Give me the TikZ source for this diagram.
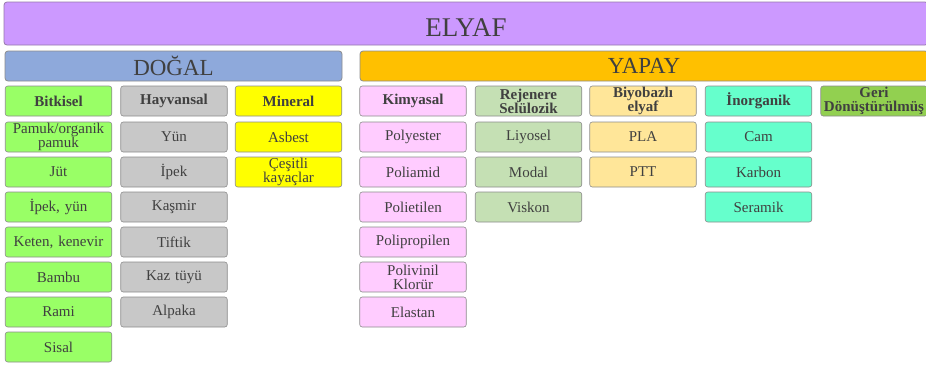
\documentclass[tikz,border=0pt]{standalone}
\usepackage{fontspec}
\setmainfont{Liberation Serif}
\usepackage{tikz}
\usetikzlibrary{positioning}
\usepackage{xcolor}
\definecolor{fbText}{RGB}{64, 64, 64}
\definecolor{fbEdge}{RGB}{140, 140, 140}
\definecolor{fbPurple}{RGB}{204, 153, 255}
\definecolor{fbPurpleEdge}{RGB}{150, 120, 170}
\definecolor{fbBlue}{RGB}{142, 169, 219}
\definecolor{fbOrange}{RGB}{255, 192, 0}
\definecolor{fbGreen}{RGB}{153, 255, 102}
\definecolor{fbSilver}{RGB}{200, 200, 200}
\definecolor{fbYellow}{RGB}{255, 255, 0}
\definecolor{fbPink}{RGB}{255, 204, 255}
\definecolor{fbSage}{RGB}{197, 224, 180}
\definecolor{fbSand}{RGB}{255, 230, 153}
\definecolor{fbMint}{RGB}{102, 255, 204}
\definecolor{fbLeaf}{RGB}{146, 208, 80}

\begin{document}
\begin{tikzpicture}[
    x=1pt, y=-1pt,
    node distance=5pt,
    topbox/.style={
        rectangle,
        rounded corners=3pt,
        minimum height=30pt,
        inner sep=0pt,
        outer sep=0pt,
        align=center,
        font=\fontsize{23}{26}\selectfont,
        draw=fbEdge,
        text=fbText,
        line width=0.8pt
    },
    headbox/.style={
        rectangle,
        rounded corners=2.5pt,
        minimum width=106.5pt,
        minimum height=30pt,
        text width=104pt,
        inner xsep=1pt,
        inner ysep=0pt,
        outer sep=0pt,
        align=center,
        font=\fontsize{15}{14}\selectfont\bfseries,
        draw=fbEdge,
        text=fbText,
        line width=0.6pt
    },
    itembox/.style={
        headbox,
        font=\fontsize{15}{14}\selectfont
    }
]

\clip (0,0) rectangle (926,365);

% Top levels
\node[topbox, fill=fbPurple, draw=fbPurpleEdge, minimum width=924pt, minimum height=43pt,
      text height=26pt, text depth=0pt, font=\fontsize{27}{30}\selectfont] (elyaf) at (466,23.5) {ELYAF};
\node[topbox, fill=fbBlue, minimum width=337pt] (dogal) at (173.5,66) {DOĞAL};
\node[topbox, fill=fbOrange, minimum width=568pt] (yapay) at (644,66) {YAPAY};

% Group headers
\node[headbox, fill=fbGreen] (bitkisel) at (58.5,101) {Bitkisel};
\node[headbox, fill=fbSilver, right=9pt of bitkisel] (hayvansal) {Hayvansal};
\node[headbox, fill=fbYellow, right=8pt of hayvansal] (mineral) {Mineral};
\node[headbox, fill=fbPink, right=18pt of mineral] (kimyasal) {Kimyasal};
\node[headbox, fill=fbSage, right=9pt of kimyasal] (rejenere) {Rejenere\\Selülozik};
\node[headbox, fill=fbSand, right=8pt of rejenere] (biyobazli) {Biyobazlı\\elyaf};
\node[headbox, fill=fbMint, right=9pt of biyobazli] (inorganik) {İnorganik};
\node[headbox, fill=fbLeaf, right=9pt of inorganik] (geri) {Geri\\Dönüştürülmüş};

% Bitkisel
\node[itembox, fill=fbGreen, below=6pt of bitkisel] (pamuk) {Pamuk/organik\\pamuk};
\node[itembox, fill=fbGreen, below=of pamuk] (jut) {Jüt};
\node[itembox, fill=fbGreen, below=of jut] (ipekyun) {İpek, yün};
\node[itembox, fill=fbGreen, below=of ipekyun] (keten) {Keten, kenevir};
\node[itembox, fill=fbGreen, below=of keten] (bambu) {Bambu};
\node[itembox, fill=fbGreen, below=of bambu] (rami) {Rami};
\node[itembox, fill=fbGreen, below=of rami] (sisal) {Sisal};

% Hayvansal
\node[itembox, fill=fbSilver, below=6pt of hayvansal] (yun) {Yün};
\node[itembox, fill=fbSilver, below=of yun] (ipek) {İpek};
\node[itembox, fill=fbSilver, below=of ipek] (kasmir) {Kaşmir};
\node[itembox, fill=fbSilver, below=of kasmir] (tiftik) {Tiftik};
\node[itembox, fill=fbSilver, below=of tiftik] (kaztuyu) {Kaz tüyü};
\node[itembox, fill=fbSilver, below=of kaztuyu] (alpaka) {Alpaka};

% Mineral
\node[itembox, fill=fbYellow, below=6pt of mineral] (asbest) {Asbest};
\node[itembox, fill=fbYellow, below=of asbest] (kayaclar) {Çeşitli\\kayaçlar};

% Kimyasal
\node[itembox, fill=fbPink, below=6pt of kimyasal] (polyester) {Polyester};
\node[itembox, fill=fbPink, below=of polyester] (poliamid) {Poliamid};
\node[itembox, fill=fbPink, below=of poliamid] (polietilen) {Polietilen};
\node[itembox, fill=fbPink, below=of polietilen] (polipropilen) {Polipropilen};
\node[itembox, fill=fbPink, below=of polipropilen] (pvc) {Polivinil\\Klorür};
\node[itembox, fill=fbPink, below=of pvc] (elastan) {Elastan};

% Rejenere selulozik
\node[itembox, fill=fbSage, below=6pt of rejenere] (liyosel) {Liyosel};
\node[itembox, fill=fbSage, below=of liyosel] (modal) {Modal};
\node[itembox, fill=fbSage, below=of modal] (viskon) {Viskon};

% Biyobazli
\node[itembox, fill=fbSand, below=6pt of biyobazli] (pla) {PLA};
\node[itembox, fill=fbSand, below=of pla] (ptt) {PTT};

% Inorganik
\node[itembox, fill=fbMint, below=6pt of inorganik] (cam) {Cam};
\node[itembox, fill=fbMint, below=of cam] (karbon) {Karbon};
\node[itembox, fill=fbMint, below=of karbon] (seramik) {Seramik};

\end{tikzpicture}
\end{document}
